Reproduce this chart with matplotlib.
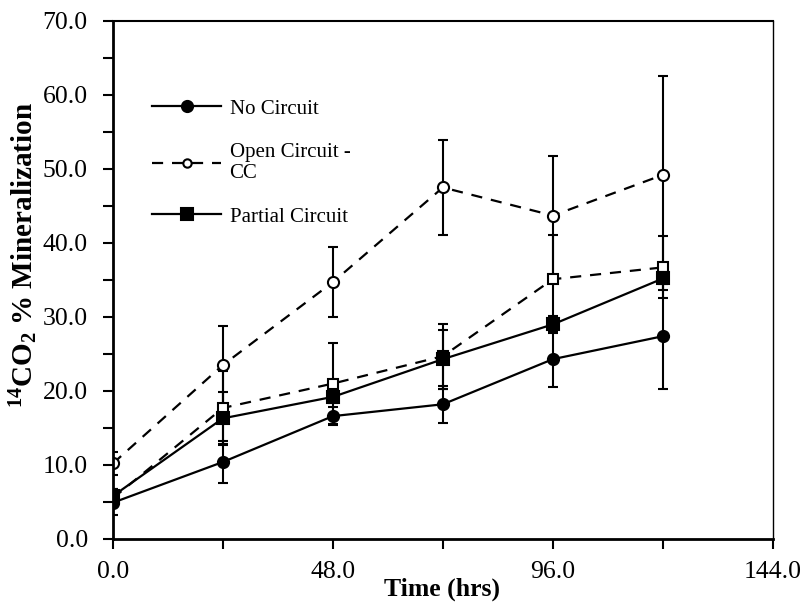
import matplotlib.pyplot as plt
from matplotlib.ticker import MultipleLocator, FormatStrFormatter

plt.rcParams['font.family'] = ['Liberation Serif', 'DejaVu Serif']
plt.rcParams['mathtext.fontset'] = 'custom'
plt.rcParams['mathtext.rm'] = 'Liberation Serif'
plt.rcParams['mathtext.bf'] = 'Liberation Serif:bold'

# time points (hrs)
time = [0, 24, 48, 72, 96, 120]

no_circuit = [4.9, 10.4, 16.6, 18.2, 24.3, 27.4]
no_circuit_err = [1.6, 2.9, 1.2, 2.5, 3.8, 7.1]

open_cc = [10.2, 23.5, 34.7, 47.5, 43.7, 49.2]
open_cc_err = [1.5, 5.3, 4.7, 6.4, 8.1, 13.3]

open_sq = [5.5, 17.7, 21.0, 24.7, 35.1, 36.7]
open_sq_err = [1.2, 5.0, 5.5, 4.4, 6.0, 4.2]

partial = [5.8, 16.3, 19.2, 24.3, 29.0, 35.2]
partial_err = [1.0, 3.5, 0.8, 4.0, 1.1, 1.6]

fig = plt.figure(figsize=(8.06, 6.02), dpi=100)
ax = fig.add_axes([0.140, 0.1047, 0.819, 0.8605])

eb_kw = dict(color='black', ecolor='black', elinewidth=1.5, capsize=3.7, capthick=1.5,
             markeredgewidth=1.5, lw=1.6)

c1 = ax.errorbar(time, no_circuit, yerr=no_circuit_err, fmt='-o', mfc='black',
                 markersize=8, **eb_kw)
c2 = ax.errorbar(time, open_cc, yerr=open_cc_err, fmt='--o', mfc='white',
                 markersize=8, dashes=(5, 4), **eb_kw)
c3 = ax.errorbar(time, open_sq, yerr=open_sq_err, fmt='--s', mfc='white',
                 markersize=7.5, dashes=(5, 4), **eb_kw)
c4 = ax.errorbar(time, partial, yerr=partial_err, fmt='-s', mfc='black',
                 markersize=8, **eb_kw)

ax.set_xlim(0, 144)
ax.set_ylim(0, 70)
ax.xaxis.set_major_locator(MultipleLocator(48))
ax.xaxis.set_minor_locator(MultipleLocator(24))
ax.yaxis.set_major_locator(MultipleLocator(10))
ax.yaxis.set_minor_locator(MultipleLocator(5))
ax.xaxis.set_major_formatter(FormatStrFormatter('%.1f'))
ax.yaxis.set_major_formatter(FormatStrFormatter('%.1f'))
ax.tick_params(which='both', direction='out', width=1.5, length=7, labelsize=18.5,
               top=False, right=False)
ax.tick_params(axis='x', pad=9)
ax.tick_params(axis='y', pad=11)

for s in ['left', 'bottom']:
    ax.spines[s].set_linewidth(2)
ax.spines['top'].set_linewidth(1.5)
ax.spines['right'].set_linewidth(1)

ax.set_xlabel('Time (hrs)', fontsize=18.5, fontweight='bold')
ax.xaxis.set_label_coords(0.499, -0.075)
ax.set_ylabel(r'$\mathbf{^{14}CO_2}$ % Mineralization', fontsize=21, fontweight='bold')
ax.yaxis.set_label_coords(-0.111, 0.548)

leg = ax.legend([c1[0], c2[0], c4[0]], ['No Circuit', 'Open Circuit -\nCC', 'Partial Circuit'],
                loc='upper left', bbox_to_anchor=(0.06, 0.849), frameon=False,
                fontsize=15, handlelength=3.3, labelspacing=1.14, handletextpad=0.4,
                borderpad=0, borderaxespad=0)
leg.legend_handles[1].set_markersize(6)

fig.savefig('out.png', dpi=100)
